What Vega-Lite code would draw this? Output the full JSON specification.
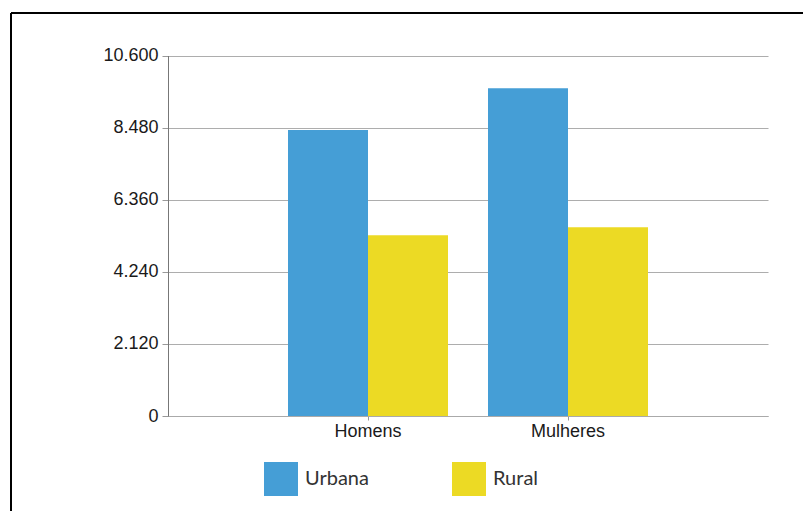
{
  "$schema": "https://vega.github.io/schema/vega-lite/v6.json",
  "autosize": "none",
  "width": 792,
  "height": 498,
  "padding": {"left": 11, "top": 13, "right": 0, "bottom": 0},
  "background": "white",
  "config": {
    "view": {"stroke": "#000000", "strokeWidth": 2, "strokeDash": [792, 1290, 498, 0]},
    "axis": {"labelFont": "Liberation Sans", "labelFontSize": 18, "labelColor": "#1a1a1a"}
  },
  "data": {
    "values": [
      {"sexo": "Homens", "area": "Urbana", "valor": 8410},
      {"sexo": "Homens", "area": "Rural", "valor": 5313},
      {"sexo": "Mulheres", "area": "Urbana", "valor": 9636},
      {"sexo": "Mulheres", "area": "Rural", "valor": 5548}
    ]
  },
  "mark": {"type": "bar"},
  "encoding": {
    "x": {
      "field": "sexo", "type": "nominal", "sort": ["Homens", "Mulheres"],
      "scale": {"range": [157, 757], "paddingInner": 0.2, "paddingOuter": 0.6},
      "axis": {"title": null, "labelAngle": 0, "offset": -95, "domainColor": "#aaaaaa", "tickColor": "#999999", "tickSize": 4, "labelPadding": 2, "grid": false}
    },
    "xOffset": {"field": "area", "type": "nominal", "sort": ["Urbana", "Rural"], "scale": {"paddingInner": 0, "paddingOuter": 0}},
    "y": {
      "field": "valor", "type": "quantitative",
      "scale": {"domain": [0, 10600], "range": [403, 42.5], "nice": false},
      "axis": {"title": null, "values": [0, 2120, 4240, 6360, 8480, 10600], "labelExpr": "replace(format(datum.value, ','), ',', '.')", "offset": -157, "grid": true, "gridColor": "#adadad", "domainColor": "#777777", "tickColor": "#999999", "tickSize": 6, "labelPadding": 4}
    },
    "color": {
      "field": "area", "type": "nominal", "sort": ["Urbana", "Rural"],
      "scale": {"domain": ["Urbana", "Rural"], "range": ["#459ed6", "#ecda24"]},
      "legend": {"title": null, "orient": "none", "legendX": 253, "legendY": 449, "direction": "horizontal", "symbolType": "square", "symbolSize": 1156, "symbolStrokeWidth": 0, "symbolOpacity": 1, "labelFont": "Lato", "labelFontSize": 20, "labelColor": "#333333", "columnPadding": 83, "labelOffset": 7, "padding": 0}
    }
  }
}
